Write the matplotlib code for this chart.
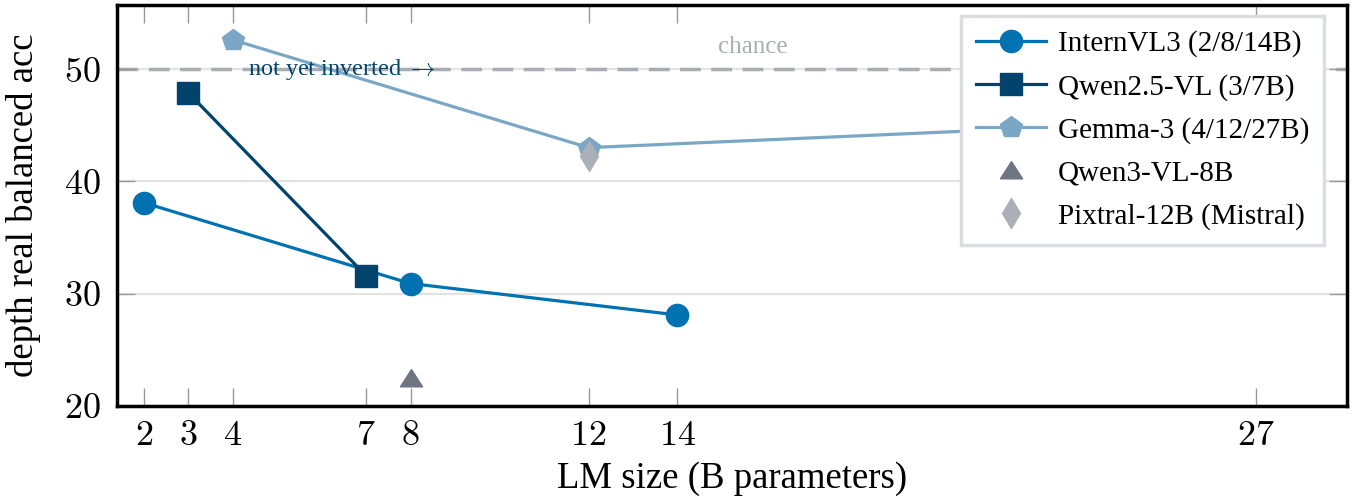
import matplotlib
matplotlib.use('Agg')
import matplotlib.pyplot as plt

plt.rcParams['font.family'] = ['Liberation Serif', 'DejaVu Serif']
plt.rcParams['mathtext.fontset'] = 'cm'

# data
intern_x = [2, 8, 14]
intern_y = [38.1, 30.9, 28.1]
qwen25_x = [3, 7]
qwen25_y = [47.9, 31.6]
gemma_x = [4, 12, 27]
gemma_y = [52.6, 43.0, 45.6]
qwen3_x = [8]
qwen3_y = [22.5]
pixtral_x = [12]
pixtral_y = [42.3]
chance = 50
x_ticks = [2, 3, 4, 7, 8, 12, 14, 27]
y_ticks = [20, 30, 40, 50]

c_intern = '#0072b2'
c_qwen25 = '#00446e'
c_gemma = '#7ba7c6'
c_qwen3 = '#6e7580'
c_pixtral = '#abafb6'
c_chance = '#a9acb2'

# squat triangle like the reference
tri = [(-1, -0.75), (1, -0.75), (0, 0.8), (-1, -0.75)]

fig = plt.figure(figsize=(13.52, 5.03), dpi=100)
ax = fig.add_axes([0.0865, 0.193, 0.9098, 0.797])

for y in y_ticks:
    ax.axhline(y, color='#e3e3e3', lw=1.5, zorder=0)
ax.axhline(chance, color=c_chance, lw=2.5, ls=(0, (6, 3)), zorder=1)
ax.text(15.7, chance + 1.0, 'chance', color=c_chance, fontsize=18, ha='center', va='bottom')
ax.text(4.35, chance, 'not yet inverted $\\rightarrow$', color=c_qwen25, fontsize=17.5,
        ha='left', va='center', zorder=5)

ax.plot(intern_x, intern_y, color=c_intern, lw=2.3, marker='o', ms=16,
        label='InternVL3 (2/8/14B)', zorder=3)
ax.plot(qwen25_x, qwen25_y, color=c_qwen25, lw=2.3, marker='s', ms=16,
        label='Qwen2.5-VL (3/7B)', zorder=3)
ax.plot(gemma_x, gemma_y, color=c_gemma, lw=2.3, marker='p', ms=16,
        label='Gemma-3 (4/12/27B)', zorder=3)
ax.plot(qwen3_x, qwen3_y, color=c_qwen3, lw=0, marker=tri, ms=16,
        label='Qwen3-VL-8B', zorder=3)
ax.plot(pixtral_x, pixtral_y, color=c_pixtral, lw=0, marker='d', ms=15,
        label='Pixtral-12B (Mistral)', zorder=4)

ax.set_xlim(1.4, 29.05)
ax.set_ylim(20, 55.7)
ax.set_xticks(x_ticks)
ax.set_xticklabels(['$%d$' % t for t in x_ticks])
ax.set_yticks(y_ticks)
ax.set_yticklabels(['$%d$' % t for t in y_ticks])
ax.tick_params(direction='in', length=13, width=1, color='#999999', labelsize=26,
               top=True, right=True)
ax.tick_params(axis='x', pad=10)
ax.tick_params(axis='y', pad=12)
for s in ax.spines.values():
    s.set_linewidth(2.5)

ax.set_xlabel('LM size (B parameters)', fontsize=26.5, labelpad=6)
ax.set_ylabel('depth real balanced acc', fontsize=26.5, labelpad=16)

leg = ax.legend(loc='upper right', fontsize=21, frameon=True, fancybox=False, framealpha=1,
                edgecolor='#dcdde0', borderpad=0.5, labelspacing=0.56, handlelength=2.4,
                handletextpad=0.4, borderaxespad=0, bbox_to_anchor=(0.981, 0.973))
leg.get_frame().set_linewidth(2.5)

fig.savefig('out.png', dpi=100)
